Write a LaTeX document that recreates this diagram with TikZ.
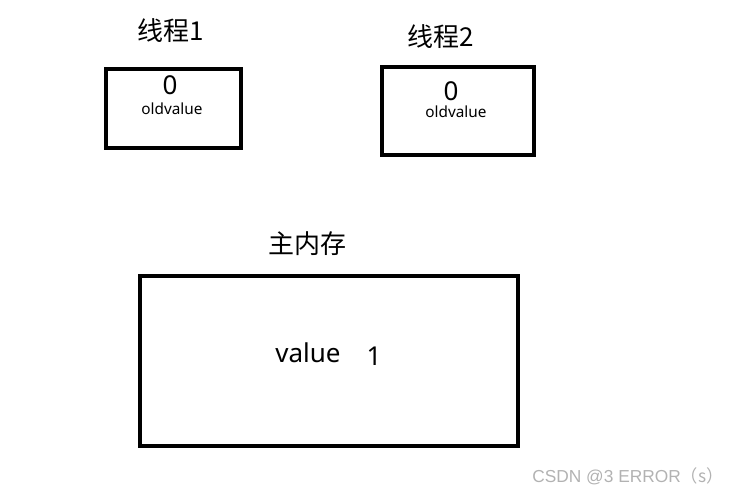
\documentclass[tikz,border=0pt]{standalone}
\usepackage{fontspec}
\setmainfont{Noto Sans}
\newfontfamily\cjk{Noto Sans CJK SC}
\newfontfamily\markfont{Liberation Sans}
\usetikzlibrary{positioning}

\begin{document}
\begin{tikzpicture}[x=0.75pt,y=-0.75pt,
    box/.style={line width=3pt},
    title/.style={font=\cjk\fontsize{19.5}{22}\selectfont},
    num/.style={font=\fontsize{19.5}{22}\selectfont},
    small/.style={font=\fontsize{11.5}{13}\selectfont}]

\useasboundingbox (0,0) rectangle (737,496);

% thread 1
\node[title] (t1) at (171,31) {线程1};
\draw[box] (106,69) rectangle (241,148);
\node[num] (v1) at (170,85) {0};
\node[small] (o1) at (172,109) {oldvalue};

% thread 2
\node[title] (t2) at (441,37) {线程2};
\draw[box] (382,67) rectangle (534,155);
\node[num] (v2) at (451,91) {0};
\node[small] (o2) at (456,112) {oldvalue};

% main memory
\node[title] (mem) at (307,244) {主内存};
\draw[box] (140,276) rectangle (518,446);
\node[num] (val) at (308,353) {value};
\node[num] (one) at (374,356) {1};

\node[font=\markfont\fontsize{13}{15}\selectfont, text=gray!60] (mark) at (628,476) {CSDN @3 ERROR{\cjk （s）}};

\end{tikzpicture}
\end{document}
